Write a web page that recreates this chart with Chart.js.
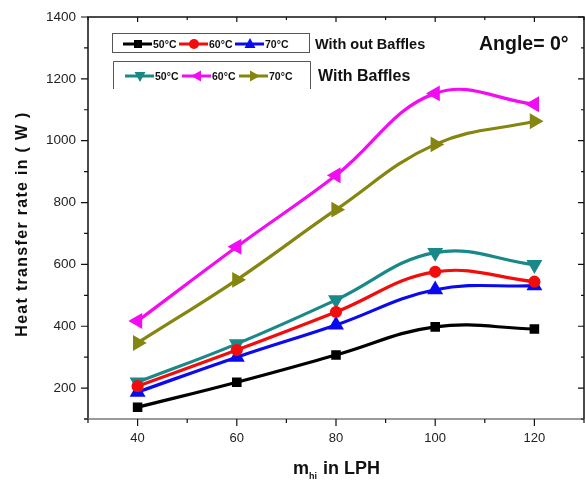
<!DOCTYPE html>
<html>
<head>
<meta charset="utf-8">
<script src="https://cdn.jsdelivr.net/npm/chart.js@4"></script>
<style>
  body { margin: 0; background: #fff; }
  #wrap { width: 585px; height: 480px; }
</style>
</head>
<body>
<div id="wrap"><canvas id="heat-chart" width="585" height="480"></canvas></div>
<script>
const flowRates = [40, 60, 80, 100, 120];
const xTicks = [40, 60, 80, 100, 120];
const yTicks = [200, 400, 600, 800, 1000, 1200, 1400];

// without baffles
const noBaffle50 = [138, 219, 307, 398, 391];
const noBaffle60 = [206, 323, 446, 576, 544];
const noBaffle70 = [187, 300, 404, 518, 531];
// with baffles
const baffle50 = [219, 343, 485, 638, 599];
const baffle60 = [417, 657, 888, 1153, 1118];
const baffle70 = [346, 550, 777, 988, 1063];

const makeSet = (label, data, color, style, rot, group) => ({
  label: label,
  group: group,
  data: data,
  borderColor: color,
  backgroundColor: color,
  borderWidth: 3.2,
  pointStyle: style,
  rotation: rot,
  pointRadius: style === "triangle" ? 6 : 4.5,
  pointHoverRadius: 5,
  tension: 0.4,
});

const datasets = [
  makeSet("50°C", noBaffle50, "#000000", "rect", 0, 0),
  makeSet("60°C", noBaffle60, "#f20d0d", "circle", 0, 0),
  makeSet("70°C", noBaffle70, "#0a0af0", "triangle", 0, 0),
  makeSet("50°C", baffle50, "#198888", "triangle", 180, 1),
  makeSet("60°C", baffle60, "#f20cf2", "triangle", 270, 1),
  makeSet("70°C", baffle70, "#858510", "triangle", 90, 1),
];

const drawMarker = (ctx, ds, x, y) => {
  ctx.save();
  ctx.fillStyle = ds.borderColor;
  ctx.translate(x, y);
  ctx.rotate((ds.rotation * Math.PI) / 180);
  ctx.beginPath();
  if (ds.pointStyle === "rect") {
    ctx.rect(-4, -4, 8, 8);
  } else if (ds.pointStyle === "circle") {
    ctx.arc(0, 0, 5, 0, Math.PI * 2);
  } else {
    ctx.moveTo(0, -6);
    ctx.lineTo(5.5, 4);
    ctx.lineTo(-5.5, 4);
    ctx.closePath();
  }
  ctx.fill();
  ctx.restore();
};

// frame, ticks, labels, legend boxes and titles
const decorations = {
  id: "decorations",
  afterDraw(chart) {
    const ctx = chart.ctx;
    const a = chart.chartArea;
    const xs = chart.scales.x;
    const ys = chart.scales.y;
    ctx.save();
    ctx.lineWidth = 1.5;
    ctx.strokeStyle = "#111";
    ctx.beginPath();
    ctx.moveTo(a.left, a.bottom);
    ctx.lineTo(a.left, a.top);
    ctx.lineTo(a.right, a.top);
    ctx.lineTo(a.right, a.bottom);
    ctx.stroke();
    ctx.strokeStyle = "#777";
    ctx.beginPath();
    ctx.moveTo(a.left - 4, a.bottom);
    ctx.lineTo(a.right, a.bottom);
    ctx.stroke();

    ctx.strokeStyle = "#111";
    ctx.lineWidth = 1.2;
    for (let v = 30; v <= 130; v += 10) {
      const px = xs.getPixelForValue(v);
      const major = v % 20 === 0;
      ctx.beginPath();
      ctx.moveTo(px, a.bottom);
      ctx.lineTo(px, a.bottom + (major ? 7 : 4));
      ctx.moveTo(px, a.top);
      ctx.lineTo(px, a.top + (major ? 5 : 3));
      ctx.stroke();
    }
    for (let v = 100; v <= 1400; v += 100) {
      const py = ys.getPixelForValue(v);
      const major = v % 200 === 0;
      ctx.beginPath();
      ctx.moveTo(a.left, py);
      ctx.lineTo(a.left - (major ? 7 : 4), py);
      ctx.moveTo(a.right, py);
      ctx.lineTo(a.right - (major ? 6 : 3), py);
      ctx.stroke();
    }

    // tick labels
    ctx.fillStyle = "#222";
    ctx.font = "13.5px Arial";
    ctx.textAlign = "right";
    ctx.textBaseline = "middle";
    yTicks.forEach((v) => ctx.fillText(String(v), 76, ys.getPixelForValue(v)));
    ctx.font = "13px Arial";
    ctx.textAlign = "center";
    xTicks.forEach((v) => ctx.fillText(String(v), xs.getPixelForValue(v), 438));

    // legend boxes
    ctx.strokeStyle = "#555";
    ctx.lineWidth = 1;
    ctx.strokeRect(112.5, 33.5, 197, 19);
    ctx.beginPath();
    ctx.moveTo(113.5, 89);
    ctx.lineTo(113.5, 61.5);
    ctx.lineTo(310.5, 61.5);
    ctx.lineTo(310.5, 89);
    ctx.stroke();

    const rows = [
      { y: 44, x0: 123, step: 56, text: "With out Baffles", tx: 315, font: "bold 14.5px Arial" },
      { y: 76, x0: 125, step: 57, text: "With Baffles", tx: 318, font: "bold 16px Arial" },
    ];
    rows.forEach((row, g) => {
      let x = row.x0;
      chart.data.datasets.filter((d) => d.group === g).forEach((ds) => {
        ctx.strokeStyle = ds.borderColor;
        ctx.lineWidth = 3;
        ctx.beginPath();
        ctx.moveTo(x, row.y);
        ctx.lineTo(x + 29, row.y);
        ctx.stroke();
        drawMarker(ctx, ds, x + 15, row.y);
        ctx.fillStyle = "#111";
        ctx.font = "bold 10.5px Arial";
        ctx.textAlign = "left";
        ctx.textBaseline = "middle";
        ctx.fillText(ds.label, x + 30, row.y + 1);
        x += row.step;
      });
      ctx.font = row.font;
      ctx.fillStyle = "#111";
      ctx.fillText(row.text, row.tx, row.y + 1);
    });

    ctx.font = "bold 19.5px Arial";
    ctx.textAlign = "left";
    ctx.textBaseline = "alphabetic";
    ctx.fillText("Angle= 0°", 479, 50);

    // axis titles
    ctx.font = "bold 16px Arial";
    ctx.letterSpacing = "1.3px";
    ctx.textAlign = "center";
    ctx.textBaseline = "middle";
    ctx.save();
    ctx.translate(23, 224);
    ctx.rotate(-Math.PI / 2);
    ctx.fillText("Heat transfer rate in ( W )", 0, 0);
    ctx.restore();
    ctx.letterSpacing = "0px";

    ctx.font = "bold 18px Arial";
    ctx.textAlign = "left";
    ctx.textBaseline = "alphabetic";
    ctx.fillText("m", 293, 474);
    ctx.font = "bold 9px Arial";
    ctx.fillText("hi", 309, 479);
    ctx.font = "bold 18px Arial";
    ctx.fillText("in LPH", 323, 474);
    ctx.restore();
  },
};

const ctx1 = document.getElementById("heat-chart").getContext("2d");
const heatChart = new Chart(ctx1, {
  type: "line",
  data: { datasets: datasets.map((d) => ({ ...d, data: d.data.map((v, i) => ({ x: flowRates[i], y: v })) })) },
  options: {
    responsive: false,
    animation: false,
    layout: { autoPadding: false, padding: { top: 17, right: 1, left: 0, bottom: 0 } },
    plugins: { legend: { display: false }, tooltip: { enabled: false } },
    scales: {
      x: {
        type: "linear",
        min: 30,
        max: 130,
        afterBuildTicks: (scale) => { scale.ticks = xTicks.map((v) => ({ value: v })); },
        afterFit: (scale) => { scale.height = 61; },
        grid: { display: false, drawTicks: false },
        border: { display: false },
        ticks: { display: false },
      },
      y: {
        min: 100,
        max: 1400,
        afterBuildTicks: (scale) => { scale.ticks = yTicks.map((v) => ({ value: v })); },
        afterFit: (scale) => { scale.width = 88; },
        grid: { display: false, drawTicks: false },
        border: { display: false },
        ticks: { display: false },
      },
    },
  },
  plugins: [decorations],
});
</script>
</body>
</html>
